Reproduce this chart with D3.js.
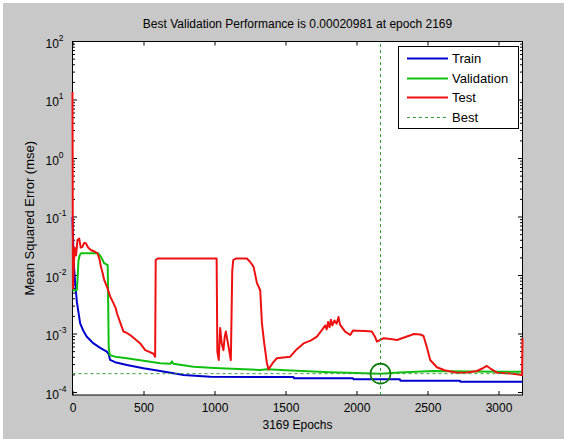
<!DOCTYPE html>
<html>
<head>
<meta charset="utf-8">
<script src="https://cdn.jsdelivr.net/npm/d3@7"></script>
<style>
  html, body { margin: 0; padding: 0; background: #ffffff; }
  svg { display: block; }
  text { font-family: "Liberation Sans", Arial, Helvetica, sans-serif; fill: #000; }
</style>
</head>
<body>
<svg id="chart" width="564" height="439"></svg>
<script>
// ---------------- data ----------------
const titleText = "Best Validation Performance is 0.00020981 at epoch 2169";
const xLabelText = "3169 Epochs";
const yLabelText = "Mean Squared Error  (mse)";
const totalEpochs = 3169;
const bestEpoch = 2169;
const bestPerf = 0.00020981;
const xTicks = [0, 500, 1000, 1500, 2000, 2500, 3000];
const yTickExps = [-4, -3, -2, -1, 0, 1, 2];
const legendNames = ["Train", "Validation", "Test", "Best"];

const trainEpochs = [0, 4, 10, 19, 31, 45, 54, 75, 101, 148, 195, 242, 255, 265, 300, 383, 500, 618, 782, 970, 1556, 1560, 1975, 1980, 2305, 2310, 2728, 2732, 3169];
const trainMSE = [0.1, 0.04, 0.015, 0.0074, 0.0035, 0.0021, 0.00152, 0.00115, 0.0009, 0.00069, 0.00058, 0.0005, 0.00045, 0.00036, 0.00033, 0.000295, 0.00026, 0.000233, 0.0002, 0.000186, 0.000184, 0.000175, 0.000175, 0.000168, 0.000168, 0.000159, 0.000159, 0.000153, 0.000153];

const valEpochs = [0, 30, 36, 42, 50, 60, 180, 200, 223, 248, 255, 262, 300, 383, 500, 618, 690, 700, 710, 852, 1000, 1322, 1369, 1500, 1815, 2000, 2169, 2300, 2540, 2800, 3169];
const valMSE = [0.0056, 0.0056, 0.009, 0.018, 0.022, 0.024, 0.024, 0.021, 0.0162, 0.015, 0.0006, 0.000437, 0.00041, 0.000385, 0.00035, 0.000316, 0.00031, 0.00034, 0.00031, 0.000276, 0.000262, 0.000243, 0.000249, 0.00024, 0.000221, 0.000215, 0.00020981, 0.00022, 0.000233, 0.000228, 0.000227];

const testEpochs = [0, 3, 8, 15, 25, 35, 47, 58, 70, 82, 94, 110, 129, 150, 176, 190, 200, 212, 223, 245, 265, 290, 305, 313, 335, 359, 380, 406, 440, 477, 512, 545, 570, 582, 586, 600, 800, 1015, 1020, 1030, 1036, 1040, 1050, 1063, 1072, 1080, 1090, 1100, 1108, 1115, 1125, 1132, 1150, 1228, 1250, 1275, 1299, 1322, 1334, 1350, 1369, 1380, 1410, 1439, 1533, 1580, 1627, 1680, 1721, 1760, 1780, 1790, 1800, 1810, 1820, 1830, 1845, 1860, 1873, 1880, 1885, 1920, 1956, 1975, 2003, 2060, 2108, 2130, 2144, 2170, 2191, 2240, 2285, 2340, 2380, 2402, 2450, 2472, 2495, 2519, 2566, 2620, 2707, 2780, 2848, 2890, 2918, 2950, 2989, 3100, 3166, 3169];
const testMSE = [13.7, 0.006, 0.012, 0.03, 0.022, 0.040, 0.043, 0.030, 0.031, 0.036, 0.0355, 0.030, 0.0273, 0.026, 0.024, 0.019, 0.0142, 0.011, 0.0084, 0.0062, 0.0044, 0.0033, 0.00275, 0.00226, 0.0016, 0.0011, 0.00105, 0.00096, 0.00082, 0.00069, 0.00053, 0.00049, 0.00046, 0.00041, 0.0184, 0.0195, 0.0195, 0.0195, 0.0005, 0.00036, 0.0008, 0.00127, 0.0007, 0.00053, 0.0009, 0.0011, 0.0008, 0.00059, 0.00045, 0.00036, 0.012, 0.0184, 0.0195, 0.0195, 0.0172, 0.0142, 0.0074, 0.0056, 0.00152, 0.0007, 0.00032, 0.000249, 0.00032, 0.000385, 0.00041, 0.00055, 0.00069, 0.00078, 0.0009, 0.0012, 0.0014, 0.0012, 0.0016, 0.0013, 0.00175, 0.0014, 0.0017, 0.0015, 0.00195, 0.0016, 0.00143, 0.0011, 0.00096, 0.00115, 0.00114, 0.00112, 0.0011, 0.0009, 0.00074, 0.0008, 0.000845, 0.00082, 0.00079, 0.00088, 0.00095, 0.001, 0.00098, 0.000925, 0.0006, 0.00036, 0.00027, 0.00024, 0.000218, 0.00022, 0.000233, 0.00026, 0.000284, 0.00025, 0.000218, 0.00021, 0.0002, 0.00085];

// ---------------- layout ----------------
const svg = d3.select("#chart");
const W = 564, H = 439;
const plotL = 72.5, plotR = 522.5, plotT = 41.5, plotB = 395;

const x = d3.scaleLinear().domain([0, totalEpochs]).range([plotL, plotR]);
const y = d3.scaleLog().domain([1e-4, 1e2]).range([392.5, 41.5]);

// figure background
svg.append("rect").attr("x", 0).attr("y", 0).attr("width", W).attr("height", H).attr("fill", "#ffffff");
svg.append("rect").attr("x", 3).attr("y", 3).attr("width", W - 3).attr("height", H - 3).attr("fill", "#c8c8c8");

// axes background
svg.append("rect").attr("x", plotL).attr("y", plotT).attr("width", plotR - plotL).attr("height", plotB - plotT).attr("fill", "#ffffff");

// ---------------- axes (drawn under the data, like MATLAB) ----------------
const axG = svg.append("g");
const xAxisB = d3.axisBottom(x).tickValues(xTicks).tickSize(-4).tickFormat(d3.format("d"));
const gxb = axG.append("g").attr("transform", `translate(0,${plotB})`).call(xAxisB);
gxb.select(".domain").remove();
gxb.selectAll("text").attr("font-size", 12).attr("dy", "1.05em").attr("y", 4);
const xAxisT = d3.axisTop(x).tickValues(xTicks).tickSize(-4).tickFormat("");
const gxt = axG.append("g").attr("transform", `translate(0,${plotT})`).call(xAxisT);
gxt.select(".domain").remove();

const majorVals = yTickExps.map(e => Math.pow(10, e));
const minorVals = [];
for (let e = -4; e < 2; e++) for (let k = 2; k <= 9; k++) minorVals.push(k * Math.pow(10, e));

function yTicks(g, vals, len) {
  g.selectAll(null).data(vals).enter().append("line")
    .attr("x1", plotL).attr("x2", plotL + len).attr("y1", d => y(d)).attr("y2", d => y(d))
    .attr("stroke", "#000").attr("stroke-width", 1);
  g.selectAll(null).data(vals).enter().append("line")
    .attr("x1", plotR).attr("x2", plotR - len).attr("y1", d => y(d)).attr("y2", d => y(d))
    .attr("stroke", "#000").attr("stroke-width", 1);
}
yTicks(axG.append("g"), majorVals, 4.5);
yTicks(axG.append("g"), minorVals, 2.5);

const yl = axG.append("g");
yTickExps.forEach(e => {
  const t = yl.append("text").attr("x", 45.5).attr("y", y(Math.pow(10, e)) + 6).attr("font-size", 12);
  t.append("tspan").text("10");
  t.append("tspan").attr("font-size", 8.5).attr("dy", -7).text(String(e));
});

axG.append("rect").attr("x", plotL).attr("y", plotT).attr("width", plotR - plotL).attr("height", plotB - plotT)
  .attr("fill", "none").attr("stroke", "#000").attr("stroke-width", 1);

// ---------------- data lines ----------------
svg.append("defs").append("clipPath").attr("id", "plotclip")
  .append("rect").attr("x", plotL - 1.5).attr("y", plotT - 1).attr("width", plotR - plotL + 3).attr("height", plotB - plotT + 1);
const plotG = svg.append("g").attr("clip-path", "url(#plotclip)");

const line = d3.line().x(d => x(d[0])).y(d => y(d[1]));
const trainData = trainEpochs.map((e, i) => [e, trainMSE[i]]);
const valData = valEpochs.map((e, i) => [e, valMSE[i]]);
const testData = testEpochs.map((e, i) => [e, testMSE[i]]);

const colTrain = "#0000cc", colVal = "#10c010", colTest = "#ee1111", colBest = "#3a9a3a";

plotG.append("path").datum(trainData).attr("d", line).attr("fill", "none").attr("stroke", colTrain).attr("stroke-width", 2).attr("stroke-linejoin", "round");
plotG.append("path").datum(valData).attr("d", line).attr("fill", "none").attr("stroke", colVal).attr("stroke-width", 2).attr("stroke-linejoin", "round");
plotG.append("path").datum(testData).attr("d", line).attr("fill", "none").attr("stroke", colTest).attr("stroke-width", 2).attr("stroke-linejoin", "round");

plotG.append("line").attr("x1", x(bestEpoch)).attr("x2", x(bestEpoch)).attr("y1", plotB).attr("y2", plotT)
  .attr("stroke", colBest).attr("stroke-width", 1).attr("stroke-dasharray", "3,3");
plotG.append("line").attr("x1", plotL).attr("x2", plotR).attr("y1", y(bestPerf)).attr("y2", y(bestPerf))
  .attr("stroke", colBest).attr("stroke-width", 1).attr("stroke-dasharray", "3,3");
plotG.append("circle").attr("cx", x(bestEpoch)).attr("cy", y(bestPerf)).attr("r", 10)
  .attr("fill", "none").attr("stroke", "#0a7a0a").attr("stroke-width", 1.6);

// title and labels
svg.append("text").attr("x", (plotL + plotR) / 2).attr("y", 28).attr("text-anchor", "middle").attr("font-size", 12).text(titleText);
svg.append("text").attr("x", (plotL + plotR) / 2).attr("y", 429).attr("text-anchor", "middle").attr("font-size", 12).text(xLabelText);
svg.append("text").attr("transform", `translate(34,${(plotT + plotB) / 2}) rotate(-90)`).attr("text-anchor", "middle").attr("font-size", 13).text(yLabelText);

// ---------------- legend ----------------
const lg = svg.append("g");
lg.append("rect").attr("x", 398.5).attr("y", 46.5).attr("width", 120).attr("height", 82)
  .attr("fill", "#ffffff").attr("stroke", "#000").attr("stroke-width", 1);
const legColors = [colTrain, colVal, colTest, colBest];
const legY = [58.5, 78.5, 97.5, 117.5];
legendNames.forEach((n, i) => {
  const ln = lg.append("line").attr("x1", 407).attr("x2", 448).attr("y1", legY[i]).attr("y2", legY[i])
    .attr("stroke", legColors[i]).attr("stroke-width", i === 3 ? 1 : 2);
  if (i === 3) ln.attr("stroke-dasharray", "3,3");
  lg.append("text").attr("x", 452).attr("y", legY[i] + 4.5).attr("font-size", 13).text(n);
});
</script>
</body>
</html>
